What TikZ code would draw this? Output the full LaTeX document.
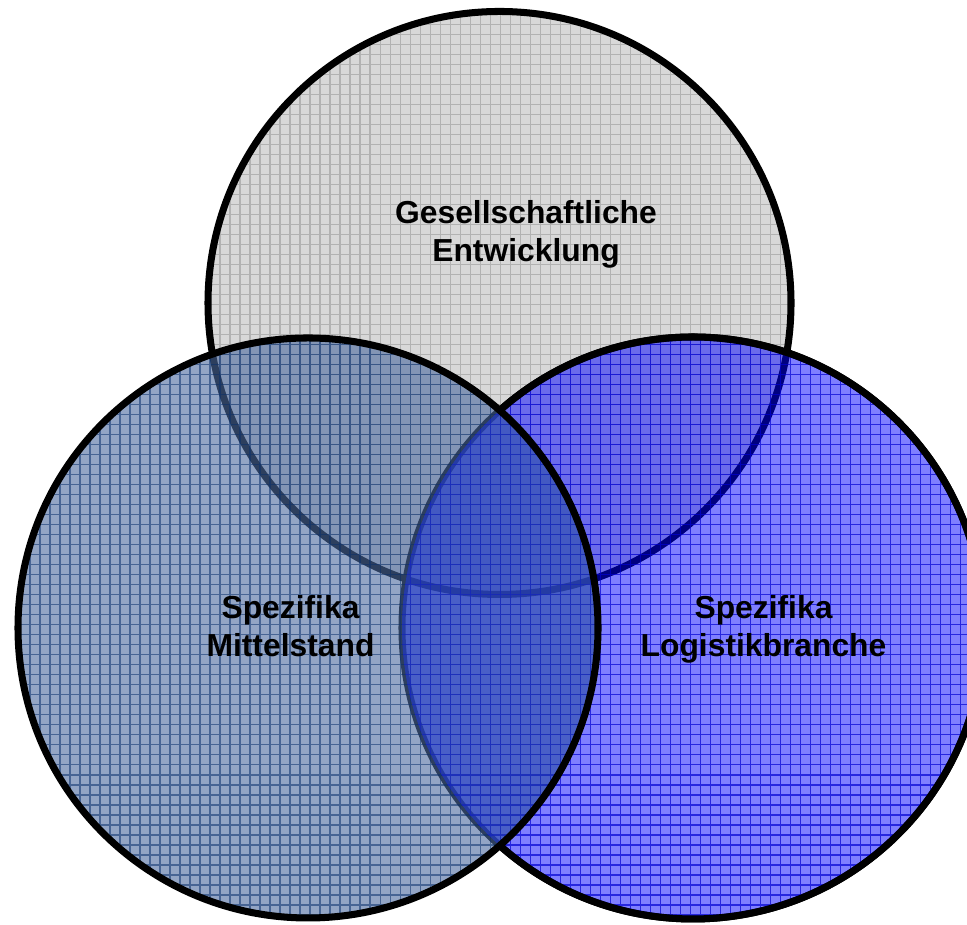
\documentclass[tikz,border=0pt]{standalone}
\usepackage{fontspec}
\setmainfont{Liberation Sans}
\definecolor{topfill}{RGB}{216,216,216}
\definecolor{topgrid}{RGB}{178,178,178}
\definecolor{midfill}{RGB}{75,105,158}
\definecolor{midgrid}{RGB}{10,48,108}
\definecolor{logfill}{RGB}{0,0,255}
\definecolor{loggrid}{RGB}{0,0,210}
\definecolor{mixfill}{RGB}{74,126,139}
\begin{document}
\begin{tikzpicture}[
ring/.style={line width=2pt},
lbl/.style={font=\bfseries\fontsize{9.05}{10.7}\selectfont,align=center},
mesh/.style={step=0.1,line width=0.3pt}
]
%\draw[help lines](0,0)grid(9.67,9.25);
\useasboundingbox (0,0) rectangle (9.67,9.25);
\coordinate (g) at (4.995,6.22);
\coordinate (m) at (3.08,2.97);
\coordinate (l) at (6.93,2.97);

% upper circle
\begin{scope}
\clip (g) circle (2.915);
\fill[topfill] (g) circle (2.915);
\draw[mesh,topgrid] (0,0) grid (9.7,9.3);
\end{scope}
\draw[ring] (g) circle (2.915);
\draw[ring] (l) circle (2.91);

% left circle
\begin{scope}
\clip (m) circle (2.90);
\fill[midfill,opacity=0.6] (m) circle (2.90);
\draw[mesh,midgrid,opacity=0.55] (0,0) grid (9.7,9.3);
\end{scope}

% right circle
\begin{scope}
\clip (l) circle (2.91);
\fill[logfill,opacity=0.5] (l) circle (2.91);
\draw[mesh,loggrid,opacity=0.7] (0,0) grid (9.7,9.3);
\clip (m) circle (2.90);
\fill[mixfill,opacity=0.3] (m) circle (2.90);
\end{scope}
\draw[ring] (m) circle (2.90);
\draw[ring] (l) ++(-131.6:2.91) arc[start angle=-131.6,end angle=131.6,radius=2.91];

\node[lbl] (gesell) at (5.26,6.905) {Gesellschaftliche\\Entwicklung};
\node[lbl] (mittel) at (2.905,2.99) {Spezifika\\Mittelstand};
\node[lbl] (logist) at (7.635,2.955) {Spezifika\\Logistikbranche};
\end{tikzpicture}
\end{document}
